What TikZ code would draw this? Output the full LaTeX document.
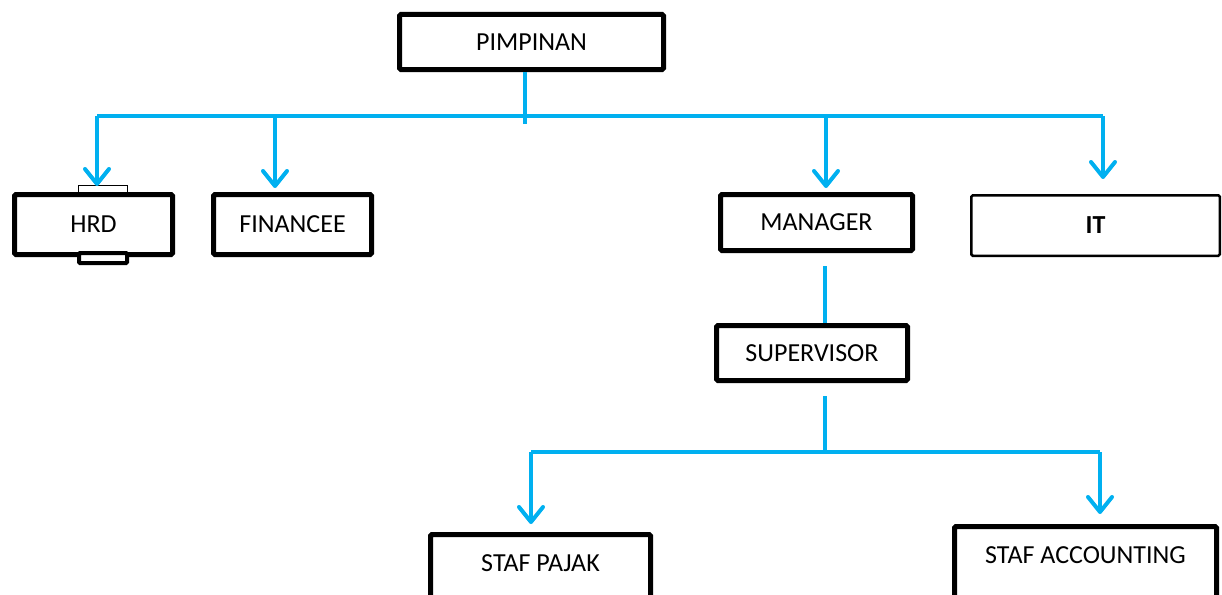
\documentclass[tikz,border=0pt]{standalone}
\usepackage{fontspec}
\setmainfont{Carlito}
\usetikzlibrary{arrows.meta}
\definecolor{wireblue}{HTML}{00B0F0}
\tikzset{
  box/.style={draw=black, line width=5pt, rounded corners=1.5pt, fill=white, inner sep=0pt, font=\fontsize{26}{30}\selectfont},
  thinbox/.style={box, line width=2.5pt},
  wire/.style={draw=wireblue, line width=4pt},
  arr/.style={wire, -{Straight Barb[length=15pt,width=24pt,round]}},
  tab/.style={draw=black, fill=white}
}
\begin{document}
\begin{tikzpicture}[x=1pt,y=-1pt]
\useasboundingbox (0,0) rectangle (1222,594);
\clip (0,0) rectangle (1222,594);
% boxes
\node[box, minimum width=264pt, minimum height=55pt] (pimp) at (531.5,42) {PIMPINAN};
\node[box, minimum width=158pt, minimum height=60pt] (hrd) at (93.5,224.5) {HRD};
\node[box, minimum width=158pt, minimum height=60pt] (fin) at (292.5,224.5) {FINANCEE};
\node[box, minimum width=192pt, minimum height=56pt] (man) at (816.5,222.5) {MANAGER};
\node[thinbox, minimum width=248.5pt, minimum height=60.5pt] (it) at (1095.5,225.5) {\bfseries IT};
\node[box, minimum width=191pt, minimum height=55pt] (sup) at (812,353) {SUPERVISOR};
\node[box, minimum width=220pt, minimum height=66pt, text height=17pt, text depth=9pt] (pajak) at (540.5,567.5) {STAF PAJAK};
\node[box, minimum width=262pt, minimum height=76pt, text height=17pt, text depth=19pt] (acc) at (1085.5,564.5) {STAF ACCOUNTING};
% HRD tabs
\draw[tab, line width=1.5pt] (78.5,185.5) rectangle (127.5,193);
\draw[tab, line width=4pt, rounded corners=1pt] (79,253) rectangle (127,263);
% top bus
\coordinate (bus) at (525,116);
\coordinate (lb) at (97,116);
\coordinate (rb) at (1103,116);
\coordinate (finb) at (275,116);
\coordinate (manb) at (826,116);
\coordinate (hrdtip) at (97,186);
\coordinate (fintip) at (275,188);
\coordinate (mantip) at (826,188);
\coordinate (ittip) at (1103,179);
\draw[wire] (pimp.south -| bus) -- ([yshift=-8pt]bus);
\draw[wire, line join=round] (lb) -- (rb);
\draw[arr] (lb) -- (hrdtip);
\draw[arr] (finb) -- (fintip);
\draw[arr] (manb) -- (mantip);
\draw[arr] (rb) -- (ittip);
% manager to supervisor
\coordinate (m1) at (825,266);
\draw[wire] (m1) -- (m1 |- sup.north);
% supervisor to staff
\coordinate (s1) at (825,396);
\coordinate (bus2) at (825,452);
\coordinate (lb2) at (531,452);
\coordinate (rb2) at (1100,452);
\coordinate (pajtip) at (531,524);
\coordinate (acctip) at (1100,514);
\draw[wire] (s1) -- (bus2);
\draw[wire] (lb2) -- (rb2);
\draw[arr] (lb2) -- (pajtip);
\draw[arr] (rb2) -- (acctip);
\end{tikzpicture}
\end{document}
